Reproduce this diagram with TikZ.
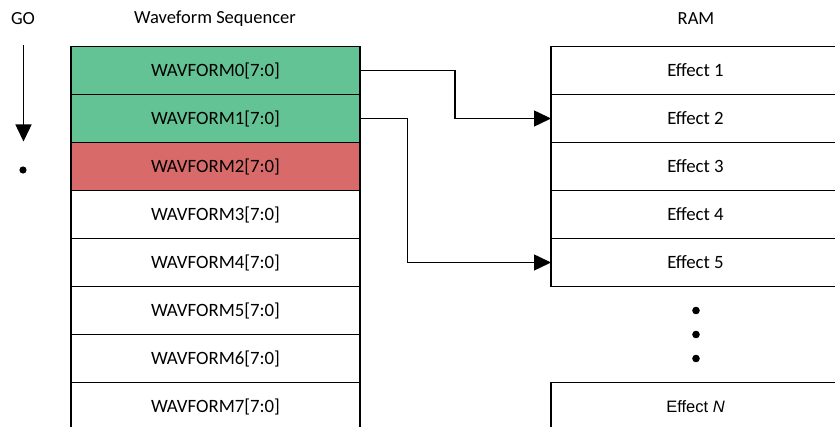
\documentclass[tikz,border=0pt]{standalone}
\usepackage{fontspec}
\setmainfont{Carlito}
\newfontfamily\arialfont{Liberation Sans}
\usetikzlibrary{arrows.meta,positioning}

\begin{document}
\begin{tikzpicture}[x=1pt,y=-1pt,
    cell/.style={draw, line width=1.5pt, outer sep=0pt, inner sep=0pt,
                 minimum width=289pt, minimum height=48pt,
                 font=\fontsize{18.8}{22}\selectfont},
    title/.style={font=\fontsize{18.5}{22}\selectfont},
    link/.style={line width=1.5pt, -{Triangle[length=17pt,width=16pt]}}]
    \definecolor{seqgreen}{RGB}{99,195,148}
    \definecolor{seqred}{RGB}{217,106,106}

    \useasboundingbox (0,0) rectangle (835,427);
    \clip (0,0) rectangle (835,427);

    % titles
    \node[title] (go)  at (23,19)  {GO};
    \node[title] (seq) at (215,19) {Waveform Sequencer};
    \node[title] (ram) at (696,19) {RAM};

    % GO pointer
    \coordinate (gotop) at (23.5,45);
    \coordinate (gobot) at (23.5,141.5);
    \draw[link] (gotop) -- (gobot);
    \fill (23,170) circle (3.6);

    % sequencer slots
    \node[cell, fill=seqgreen, anchor=north west] (w0) at (71,46.5) {WAVFORM0[7:0]};
    \node[cell, fill=seqgreen, below=0pt of w0] (w1) {WAVFORM1[7:0]};
    \node[cell, fill=seqred, below=0pt of w1] (w2) {WAVFORM2[7:0]};
    \foreach \i [evaluate=\i as \j using int(\i-1)] in {3,...,7}
        \node[cell, below=0pt of w\j] (w\i) {WAVFORM\i[7:0]};

    % RAM effects
    \node[cell, anchor=north west] (e1) at (551,46.5) {Effect 1};
    \foreach \i [evaluate=\i as \j using int(\i-1)] in {2,...,5}
        \node[cell, below=0pt of e\j] (e\i) {Effect \i};
    \node[cell, anchor=north west, font=\arialfont\fontsize{16.5}{19}\selectfont]
        (eN) at (551,382.5) {Effect \textit{N}};

    % more effects
    \foreach \y in {310.5,334.5,358.5}
        \fill (696,\y) circle (3.8);

    % slot -> effect links
    \draw[link] (w0.east) -- ++(95,0) |- (e2.west);
    \draw[link] (w1.east) -- ++(47.5,0) |- (e5.west);
\end{tikzpicture}
\end{document}
